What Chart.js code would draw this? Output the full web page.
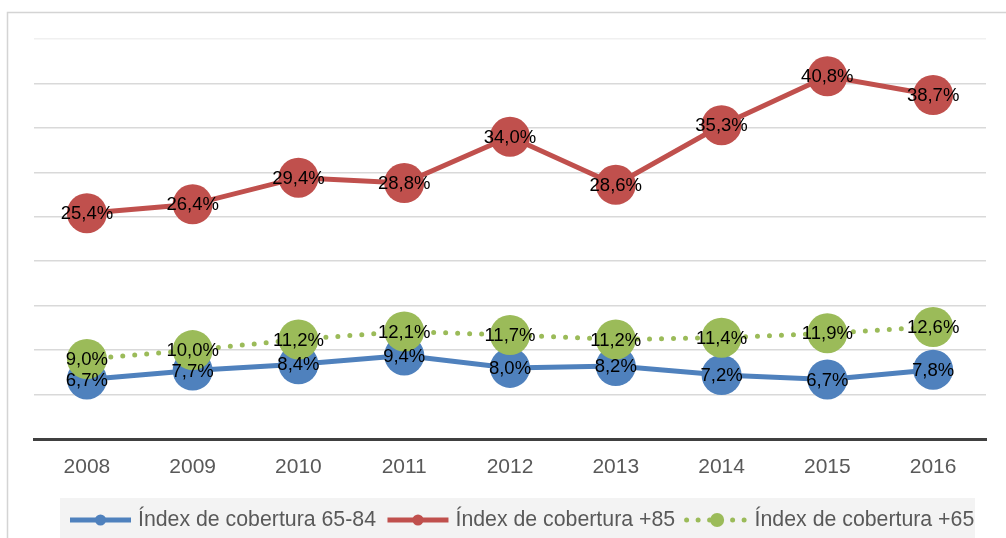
<!DOCTYPE html>
<html>
<head>
<meta charset="utf-8">
<script src="https://cdn.jsdelivr.net/npm/chart.js@4.4.1/dist/chart.umd.min.js"></script>
<style>
  html, body { margin: 0; padding: 0; background: #ffffff; }
  #wrap { width: 1006px; height: 538px; position: relative; }
</style>
</head>
<body>
<div id="wrap"><canvas id="c"></canvas></div>
<script>
// ---- data ----
const years = ['2008', '2009', '2010', '2011', '2012', '2013', '2014', '2015', '2016'];
const seriesNames = ['Índex de cobertura 65-84', 'Índex de cobertura +85', 'Índex de cobertura +65'];
const cobertura6584 = [6.7, 7.7, 8.4, 9.4, 8.0, 8.2, 7.2, 6.7, 7.8];
const cobertura85 = [25.4, 26.4, 29.4, 28.8, 34.0, 28.6, 35.3, 40.8, 38.7];
const cobertura65 = [9.0, 10.0, 11.2, 12.1, 11.7, 11.2, 11.4, 11.9, 12.6];
const yMin = 0, yMax = 45, yStep = 5;

const BLUE = '#4F81BD', RED = '#C0504D', GREEN = '#9BBB59';
const FONT = "'Liberation Sans', Arial, sans-serif";

function fmt(v) { return v.toFixed(1).replace('.', ',') + '%'; }

const framePlugin = {
  id: 'frame',
  beforeDraw(chart) {
    const ctx = chart.ctx;
    ctx.save();
    ctx.strokeStyle = '#d4d4d4';
    ctx.lineWidth = 1.5;
    ctx.beginPath();
    ctx.moveTo(7.5, 538);
    ctx.lineTo(7.5, 12.5);
    ctx.lineTo(1006, 12.5);
    ctx.stroke();
    ctx.restore();
  }
};

const labelPlugin = {
  id: 'valueLabels',
  afterDatasetsDraw(chart) {
    const ctx = chart.ctx;
    ctx.save();
    ctx.font = '18.5px ' + FONT;
    ctx.fillStyle = '#000000';
    ctx.textAlign = 'center';
    ctx.textBaseline = 'middle';
    chart.data.datasets.forEach((ds, i) => {
      const meta = chart.getDatasetMeta(i);
      meta.data.forEach((pt, j) => {
        ctx.fillText(fmt(ds.data[j]), pt.x, pt.y + 1);
      });
    });
    ctx.restore();
  }
};

const legendPlugin = {
  id: 'customLegend',
  afterDraw(chart) {
    const ctx = chart.ctx;
    ctx.save();
    ctx.fillStyle = '#f3f3f3';
    ctx.fillRect(60, 498, 915, 40);
    ctx.font = '21.3px ' + FONT;
    ctx.textBaseline = 'middle';
    let x = 68;
    const y = 520;
    chart.data.datasets.forEach((ds) => {
      const w = 65;
      const dotted = ds.borderDash && ds.borderDash.length;
      ctx.strokeStyle = ds.borderColor;
      ctx.fillStyle = ds.borderColor;
      ctx.lineWidth = 5;
      if (dotted) {
        ctx.lineCap = 'round';
        ctx.setLineDash([0, 11.5]);
      } else {
        ctx.lineCap = 'butt';
        ctx.setLineDash([]);
      }
      ctx.beginPath();
      ctx.moveTo(x + 2, y);
      ctx.lineTo(x + w - 2, y);
      ctx.stroke();
      ctx.setLineDash([]);
      ctx.beginPath();
      ctx.arc(x + w / 2, y, dotted ? 7 : 5.5, 0, Math.PI * 2);
      ctx.fill();
      ctx.fillStyle = '#595959';
      ctx.textAlign = 'left';
      ctx.fillText(ds.label, x + w + 5, y);
      x += w + 5 + ctx.measureText(ds.label).width + 9.5;
    });
    ctx.restore();
  }
};

new Chart(document.getElementById('c'), {
  type: 'line',
  data: {
    labels: years,
    datasets: [
      {
        label: seriesNames[0], data: cobertura6584, order: 3,
        borderColor: BLUE, backgroundColor: BLUE, borderWidth: 5,
        pointRadius: 20, pointHoverRadius: 20, pointBorderWidth: 0,
        pointBackgroundColor: BLUE, tension: 0, clip: false
      },
      {
        label: seriesNames[1], data: cobertura85, order: 2,
        borderColor: RED, backgroundColor: RED, borderWidth: 5,
        pointRadius: 20, pointHoverRadius: 20, pointBorderWidth: 0,
        pointBackgroundColor: RED, tension: 0, clip: false
      },
      {
        label: seriesNames[2], data: cobertura65, order: 1,
        borderColor: GREEN, backgroundColor: GREEN, borderWidth: 5,
        borderDash: [0, 12], borderCapStyle: 'round',
        pointRadius: 20, pointHoverRadius: 20, pointBorderWidth: 0,
        pointBackgroundColor: GREEN, tension: 0, clip: false
      }
    ]
  },
  options: {
    responsive: true,
    maintainAspectRatio: false,
    animation: false,
    events: [],
    layout: { padding: { left: 34, right: 13, top: 39, bottom: 0 } },
    plugins: { legend: { display: false }, tooltip: { enabled: false } },
    scales: {
      x: {
        offset: true,
        grid: { display: false, drawTicks: false },
        border: { display: true, color: '#404040', width: 3 },
        ticks: { color: '#595959', font: { family: FONT, size: 21 }, padding: 16, maxRotation: 0 },
        afterFit(scale) { scale.height = 99; }
      },
      y: {
        min: yMin, max: yMax,
        grid: {
          drawTicks: false,
          lineWidth: 1.5,
          color: (c) => (c.tick && c.tick.value === yMax ? '#f0f0f0' : '#d9d9d9')
        },
        border: { display: false },
        ticks: { display: false, stepSize: yStep },
        afterFit(scale) { scale.width = 0; }
      }
    }
  },
  plugins: [framePlugin, labelPlugin, legendPlugin]
});
</script>
</body>
</html>
